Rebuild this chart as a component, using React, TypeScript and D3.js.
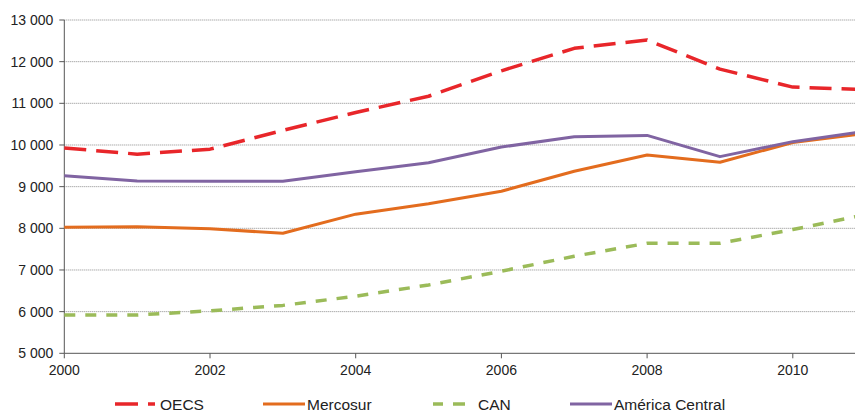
import React from "react";
import * as d3 from "d3";

const years = [2000, 2001, 2002, 2003, 2004, 2005, 2006, 2007, 2008, 2009, 2010, 2011];
const oecs = [9930, 9780, 9900, 10350, 10780, 11170, 11780, 12320, 12520, 11820, 11390, 11330];
const mercosur = [8025, 8040, 7990, 7880, 8340, 8590, 8890, 9370, 9760, 9585, 10060, 10280];
const can = [5920, 5920, 6020, 6150, 6370, 6640, 6970, 7330, 7640, 7640, 7970, 8330];
const americaCentral = [9260, 9135, 9130, 9130, 9360, 9575, 9950, 10200, 10230, 9720, 10080, 10330];
const yTicks = [5000, 6000, 7000, 8000, 9000, 10000, 11000, 12000, 13000];
const xTicks = [2000, 2002, 2004, 2006, 2008, 2010];

const series = [
  { name: "OECS", values: oecs, color: "#e8262a", dash: "22 10", width: 3.5 },
  { name: "Mercosur", values: mercosur, color: "#e36c1e", dash: "", width: 3 },
  { name: "CAN", values: can, color: "#9bbb59", dash: "11 10", width: 3.5 },
  { name: "América Central", values: americaCentral, color: "#8064a2", dash: "", width: 3 },
];

const W = 855;
const H = 411;
const font = "'Liberation Sans', Arial, sans-serif";

export default function App() {
  const x = d3.scaleLinear().domain([2000, 2010]).range([64.3, 792.8]);
  const y = d3.scaleLinear().domain([5000, 13000]).range([353.3, 20]);
  const line = d3
    .line<number>()
    .x((_, i) => x(years[i]))
    .y((v) => y(v));

  const drawOrder = [2, 1, 3, 0];
  const legend = [
    { s: series[0], x0: 115, x1: 156, tx: 160, dash: "23 10 7 100" },
    { s: series[1], x0: 263, x1: 305, tx: 307, dash: "" },
    { s: series[2], x0: 433, x1: 466, tx: 478, dash: "10 10 12 100" },
    { s: series[3], x0: 570, x1: 612, tx: 614, dash: "" },
  ];

  return (
    <svg
      width={W}
      height={H}
      style={{ position: "absolute", left: 0, top: 0, background: "#fff" }}
      fontFamily={font}
    >
      <defs>
        <clipPath id="plot">
          <rect x={0} y={0} width={W} height={360} />
        </clipPath>
      </defs>
      {yTicks.map((t) => (
        <g key={t}>
          {t !== 5000 && (
            <line
              x1={x(2000)}
              x2={W}
              y1={y(t)}
              y2={y(t)}
              stroke="#8a8a8a"
              strokeWidth={1}
              strokeDasharray="1 1"
            />
          )}
          <line x1={x(2000) - 5} x2={x(2000)} y1={y(t)} y2={y(t)} stroke="#555" />
          <text
            x={x(2000) - 11}
            y={y(t)}
            dy="0.36em"
            textAnchor="end"
            fontSize={14}
            fill="#222"
          >
            {d3.format(",")(t).replace(",", " ")}
          </text>
        </g>
      ))}
      {xTicks.map((t) => (
        <g key={t}>
          <line x1={x(t)} x2={x(t)} y1={y(5000)} y2={y(5000) + 5} stroke="#555" />
          <text x={x(t)} y={375} textAnchor="middle" fontSize={14} fill="#222">
            {t}
          </text>
        </g>
      ))}
      <line x1={x(2000)} x2={x(2000)} y1={y(13000)} y2={y(5000)} stroke="#555" />
      <line x1={x(2000)} x2={W} y1={y(5000)} y2={y(5000)} stroke="#555" />
      <g clipPath="url(#plot)">
        {drawOrder.map((i) => {
          const s = series[i];
          return (
            <path
              key={s.name}
              d={line(s.values) || ""}
              fill="none"
              stroke={s.color}
              strokeWidth={s.width}
              strokeDasharray={s.dash || undefined}
              strokeLinejoin="round"
            />
          );
        })}
      </g>
      {legend.map((l) => (
        <g key={l.s.name}>
          <line
            x1={l.x0}
            x2={l.x1}
            y1={404}
            y2={404}
            stroke={l.s.color}
            strokeWidth={l.s.width}
            strokeDasharray={l.dash || undefined}
          />
          <text x={l.tx} y={409.5} fontSize={15.5} fill="#222">
            {l.s.name}
          </text>
        </g>
      ))}
    </svg>
  );
}
